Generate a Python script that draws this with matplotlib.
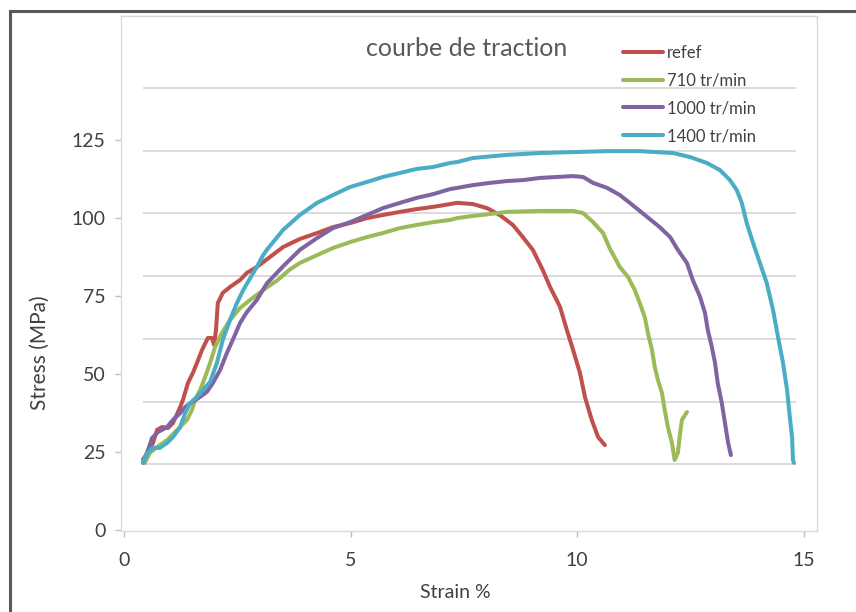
import matplotlib
matplotlib.use("Agg")
import matplotlib.pyplot as plt
from matplotlib.patches import Rectangle

plt.rcParams['font.family'] = ['Lato', 'DejaVu Sans']

# Tensile test curves: strain (%) vs stress (MPa)
series_names = ["refef", "710 tr/min", "1000 tr/min", "1400 tr/min"]
series_colors = ["#C0504D", "#9BBB59", "#8064A2", "#4BACC6"]

refef_strain = [0.42, 0.46, 0.64, 0.73, 0.84, 0.97, 1.08, 1.24, 1.30, 1.41, 1.52, 1.61,
                1.72, 1.85, 1.94, 1.99, 2.03, 2.07, 2.18, 2.34, 2.56, 2.71, 2.93, 3.22,
                3.51, 3.88, 4.26, 4.61, 4.99, 5.36, 5.71, 6.09, 6.46, 6.82, 7.19, 7.35,
                7.70, 8.01, 8.29, 8.58, 8.80, 9.02, 9.24, 9.40, 9.62, 9.77, 9.91, 10.06,
                10.17, 10.32, 10.46, 10.61]
refef_stress = [22.5, 23.3, 27.8, 32.0, 32.9, 32.6, 34.2, 39.3, 41.6, 47.0, 50.3, 53.5,
                57.6, 61.5, 61.5, 59.2, 64.1, 72.7, 76.0, 77.9, 80.1, 82.4, 84.3, 87.5,
                90.7, 93.3, 95.2, 97.1, 98.4, 100.0, 101.0, 102.0, 102.9, 103.6, 104.5, 104.9,
                104.5, 103.2, 101.0, 97.8, 93.9, 89.8, 83.3, 77.9, 71.5, 64.1, 57.6, 50.3,
                42.6, 35.2, 29.7, 27.1]

s710_strain = [0.46, 0.57, 0.73, 0.95, 1.17, 1.39, 1.50, 1.57, 1.68, 1.79, 1.90, 2.01,
               2.16, 2.34, 2.56, 2.78, 3.07, 3.38, 3.66, 3.88, 4.26, 4.61, 4.99, 5.36,
               5.71, 6.09, 6.46, 6.82, 7.19, 7.35, 7.70, 8.07, 8.45, 9.18, 9.91, 10.13,
               10.35, 10.57, 10.72, 10.94, 11.12, 11.27, 11.38, 11.49, 11.56, 11.65, 11.71,
               11.78, 11.87, 11.93, 12.00, 12.09, 12.15, 12.22, 12.27, 12.31, 12.42]
s710_stress = [21.4, 24.6, 26.5, 28.7, 31.9, 35.2, 38.4, 41.6, 44.8, 49.0, 53.5, 58.6,
               63.1, 67.3, 71.1, 73.7, 76.9, 80.0, 83.5, 85.6, 88.1, 90.4, 92.3, 93.9,
               95.2, 96.8, 97.8, 98.7, 99.4, 100.0, 100.7, 101.3, 102.0, 102.3, 102.3, 101.6,
               98.7, 95.2, 90.2, 84.3, 81.1, 76.9, 72.7, 68.2, 63.1, 57.6, 52.2,
               48.0, 43.8, 38.4, 32.9, 27.8, 22.3, 24.6, 31.0, 35.2, 37.7]

s1000_strain = [0.42, 0.53, 0.62, 0.75, 0.95, 1.08, 1.24, 1.35, 1.50, 1.68, 1.83, 1.96,
                2.12, 2.27, 2.40, 2.56, 2.71, 2.93, 3.15, 3.51, 3.88, 4.26, 4.61, 4.99,
                5.36, 5.71, 6.09, 6.46, 6.82, 7.19, 7.35, 7.70, 8.07, 8.45, 8.80, 9.18,
                9.55, 9.91, 10.13, 10.35, 10.66, 10.94, 11.16, 11.38, 11.60, 11.82, 12.05,
                12.22, 12.42, 12.55, 12.71, 12.82, 12.88, 12.97, 13.04, 13.10, 13.19, 13.26,
                13.33, 13.39]
s1000_stress = [21.4, 25.5, 29.4, 31.3, 32.9, 35.2, 37.4, 39.3, 40.9, 42.6, 44.2, 47.0,
                51.2, 56.7, 60.9, 66.3, 69.8, 73.7, 79.0, 84.5, 89.8, 93.6, 96.8, 98.7,
                101.0, 103.2, 104.9, 106.5, 107.7, 109.3, 109.7, 110.6, 111.3, 111.9, 112.2, 112.9,
                113.2, 113.5, 113.2, 111.3, 109.7, 107.4, 104.9, 102.3, 99.7, 97.1, 93.9,
                89.8, 85.6, 80.1, 74.7, 69.5, 64.1, 58.6, 53.5, 47.0, 40.6, 34.2,
                27.8, 23.9]

s1400_strain = [0.42, 0.51, 0.64, 0.79, 0.95, 1.08, 1.24, 1.35, 1.46, 1.61, 1.74, 1.90,
                2.05, 2.18, 2.34, 2.49, 2.63, 2.78, 2.93, 3.07, 3.15, 3.51, 3.88, 4.26,
                4.61, 4.99, 5.36, 5.71, 6.09, 6.46, 6.82, 7.19, 7.35, 7.70, 8.45, 9.18,
                9.91, 10.66, 11.38, 12.11, 12.49, 12.86, 13.15, 13.37, 13.52, 13.63, 13.74,
                13.88, 14.03, 14.18, 14.32, 14.43, 14.54, 14.63, 14.69, 14.74, 14.76, 14.78]
s1400_stress = [21.4, 24.6, 26.2, 26.2, 27.8, 29.7, 32.9, 37.4, 40.6, 42.6, 44.8, 47.4,
                53.5, 60.9, 67.3, 72.7, 76.9, 80.6, 84.3, 88.1, 89.8, 96.2, 101.0, 104.9,
                107.4, 110.0, 111.6, 113.2, 114.5, 115.8, 116.4, 117.7, 118.0, 119.3, 120.3, 120.9,
                121.2, 121.5, 121.5, 120.9, 119.6, 117.7, 115.4, 112.2, 109.0, 104.9, 98.4,
                92.0, 85.6, 79.2, 70.5, 61.8, 53.5, 44.8, 36.1, 29.7, 22.3, 21.4]

strain_data = [refef_strain, s710_strain, s1000_strain, s1400_strain]
stress_data = [refef_stress, s710_stress, s1000_stress, s1400_stress]

x_ticks = [0, 5, 10, 15]
y_ticks = [0, 25, 50, 75, 100, 125]
grid_levels = [21.0, 40.9, 61.2, 81.4, 101.6, 121.5, 141.8]

W, H = 856, 612
fig = plt.figure(figsize=(W / 100, H / 100), dpi=100)
fig.patch.set_facecolor("white")

ax = fig.add_axes([121 / W, 1 - 531 / H, 696 / W, 515 / H])
ax.set_xlim(-0.066, 15.29)
ax.set_ylim(-0.48, 164.9)

ax.hlines(grid_levels, 0.42, 14.83, colors="#D9D9D9", linewidth=1.3, zorder=0)

for xs, ys, name, color in zip(strain_data, stress_data, series_names, series_colors):
    ax.plot(xs, ys, color=color, linewidth=2.9, label=name,
            solid_joinstyle="round", solid_capstyle="round", zorder=3)

for side in ["left", "right", "top", "bottom"]:
    ax.spines[side].set_color("#D9D9D9")
    ax.spines[side].set_linewidth(1.0)

ax.set_xticks(x_ticks)
ax.set_yticks(y_ticks)
ax.tick_params(axis="both", colors="#BFBFBF", labelcolor="#404040",
               length=4, width=1, labelsize=14)
ax.tick_params(axis="x", pad=11)
ax.tick_params(axis="y", pad=7)

fig.text(467 / W, 1 - 48 / H, "courbe de traction", ha="center", va="center",
         fontsize=18, color="#595959")
fig.text(455 / W, 1 - 592 / H, "Strain %", ha="center", va="center",
         fontsize=14, color="#404040")
fig.text(40 / W, 1 - 353 / H, "Stress (MPa)", ha="center", va="center",
         rotation=90, fontsize=15, color="#404040")

ax.legend(loc="upper left", bbox_to_anchor=(623 / W, 1 - 45 / H),
          bbox_transform=fig.transFigure, frameon=False, fontsize=12,
          handlelength=2.4, handletextpad=0.25, labelspacing=0.7,
          borderpad=0, borderaxespad=0, labelcolor="#404040")

# Outer chart frame (extends past the right and bottom edges)
top = 1 - 11 / H
fig.patches.append(Rectangle((10 / W, -0.1), 1.2, top + 0.1,
                             transform=fig.transFigure, fill=False,
                             edgecolor="#595959", linewidth=2.2))

fig.savefig("out.png", dpi=100)
